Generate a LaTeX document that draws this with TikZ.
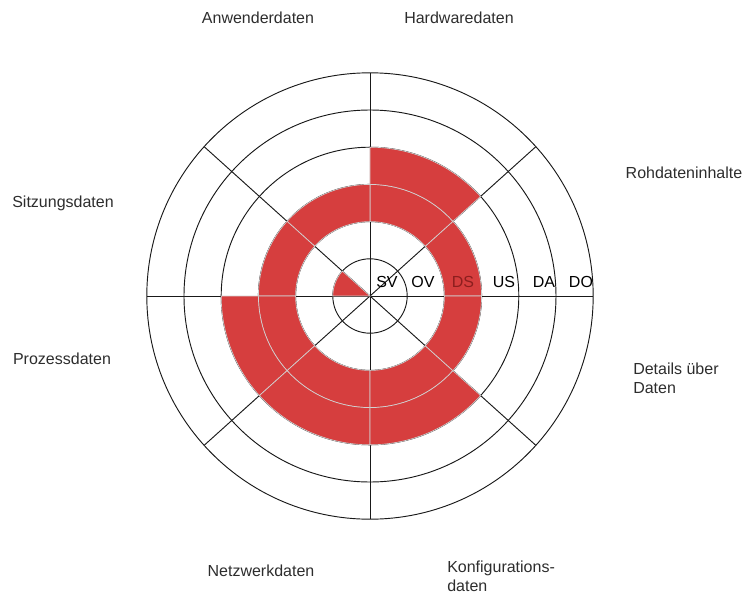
\documentclass[tikz,border=0pt]{standalone}
\usepackage{fontspec}
\setmainfont{Liberation Sans}
\definecolor{segred}{RGB}{214,62,62}
\definecolor{dsred}{RGB}{140,30,30}
\definecolor{labelgray}{RGB}{45,45,45}

% one red cell of the wheel: start angle, end angle, inner radius, outer radius
\newcommand{\ringcell}[4]{%
  \draw[redcell] (#1:#3) arc[start angle=#1, end angle=#2, radius=#3]
    -- (#2:#4) arc[start angle=#2, end angle=#1, radius=#4] -- cycle;}

\begin{document}
\begin{tikzpicture}[x=0.75pt,y=0.75pt,
    gridline/.style={line width=0.7pt, black!90},
    redcell/.style={fill=segred, draw=gray!35, line width=0.5pt},
    sectorlabel/.style={font=\fontsize{12}{14}\selectfont, text=labelgray, inner sep=0pt},
    ringlabel/.style={font=\fontsize{12}{14}\selectfont, inner sep=0pt}]
	\useasboundingbox (-370,-301) rectangle (374,296);
	\pgfmathsetmacro{\rs}{37.2}

	% grid
	\foreach \k in {1,...,6}
		\draw[gridline] (0,0) circle ({\k*\rs});
	\foreach \a in {0,42,90,138,180,222,270,318}
		\draw[gridline] (0,0) -- (\a:{6*\rs});

	% DS ring, all sectors
	\foreach \a/\b in {0/42,42/90,90/138,138/180,180/222,222/270,270/318,318/360}
		{\ringcell{\a}{\b}{{2*\rs}}{{3*\rs}}}

	% US ring
	\foreach \a/\b in {42/90,180/222,222/270,270/318}
		{\ringcell{\a}{\b}{{3*\rs}}{{4*\rs}}}

	% SV ring
	\draw[redcell] (0,0) -- (138:\rs) arc[start angle=138, end angle=180, radius=\rs] -- cycle;

	% ring labels
	\foreach \lab/\x/\col [count=\i] in {SV/17/black, OV/53/black, DS/93/dsred, US/134/black, DA/174/black, DO/211/black}
		\node[ringlabel, text=\col] (ring\i) at (\x,14) {\lab};

	% sector labels
	\node[sectorlabel] (anwender) at (-112,278) {Anwenderdaten};
	\node[sectorlabel] (hardware) at (89,278) {Hardwaredaten};
	\node[sectorlabel] (rohdaten) at (314,123) {Rohdateninhalte};
	\node[sectorlabel, align=left, anchor=west] (details) at (263,-82) {Details über\\Daten};
	\node[sectorlabel, align=left, anchor=west] (konfig) at (77,-280) {Konfigurations-\\daten};
	\node[sectorlabel] (netzwerk) at (-109,-275) {Netzwerkdaten};
	\node[sectorlabel] (prozess) at (-308,-63) {Prozessdaten};
	\node[sectorlabel] (sitzung) at (-307,93) {Sitzungsdaten};
\end{tikzpicture}
\end{document}
